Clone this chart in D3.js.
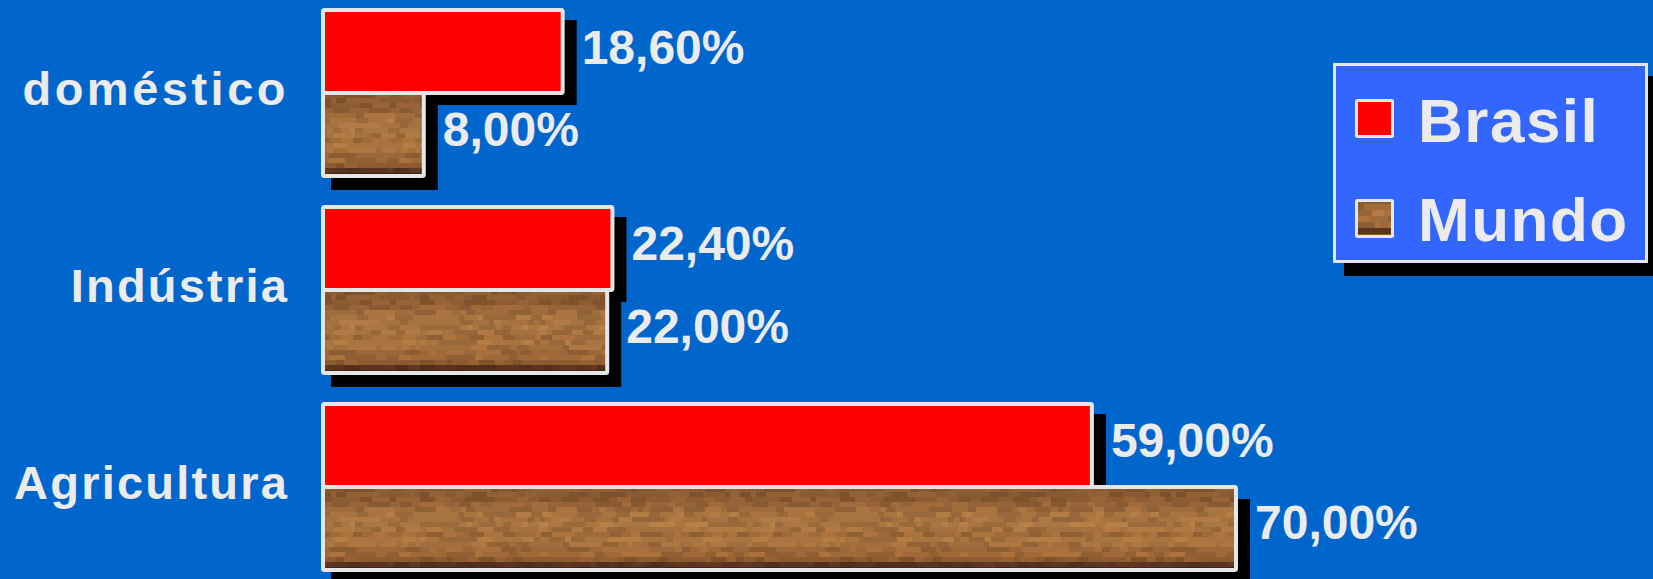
<!DOCTYPE html>
<html>
<head>
<meta charset="utf-8">
<script src="https://cdn.jsdelivr.net/npm/d3@7"></script>
<style>
  body { margin: 0; background: #0066cc; }
  svg { display: block; }
  text { font-family: "Liberation Sans", Arial, sans-serif; font-weight: bold; fill: #ebebeb; }
</style>
</head>
<body>
<div id="chart"></div>
<script>
var categories = ["doméstico", "Indústria", "Agricultura"];
var series = ["Brasil", "Mundo"];
var brasil = [18.6, 22.4, 59.0];
var mundo = [8.0, 22.0, 70.0];
var valueLabels = [["18,60%", "8,00%"], ["22,40%", "22,00%"], ["59,00%", "70,00%"]];

var width = 1653, height = 579;

var svg = d3.select("#chart").append("svg")
    .attr("width", width)
    .attr("height", height);

svg.append("rect")
    .attr("width", width)
    .attr("height", height)
    .attr("fill", "#0066cc");

var x = d3.scaleLinear()
    .domain([0, 70])
    .range([321, 1238]);

var y = d3.scaleBand()
    .domain(categories)
    .range([8, 572])
    .paddingInner(0.137)
    .paddingOuter(0);

var ySub = d3.scaleBand()
    .domain(series)
    .range([0, y.bandwidth()]);

var bw = ySub.bandwidth();

// pixel-ish wood texture (styling only)
var defs = svg.append("defs");

function hash(a, b) {
    var s = Math.sin(a * 127.1 + b * 311.7) * 43758.5453;
    return s - Math.floor(s);
}

var rowTones = ["#8a5a30", "#8e5c32", "#966438", "#a06c3c", "#a8743f", "#a67240",
                "#aa7742", "#a5713e", "#a06b3a", "#a8743f", "#a26e3c", "#9c683a",
                "#a06a38", "#8e5a30", "#5a3420", "#42261a", "#5e3a22"];

function makeWood(id, px, py, pw, ph, contentH, cell) {
    var p = defs.append("pattern")
        .attr("id", id)
        .attr("patternUnits", "userSpaceOnUse")
        .attr("x", px).attr("y", py)
        .attr("width", pw).attr("height", ph);
    var rows = Math.ceil(contentH / cell);
    for (var r = 0; r < rows; r++) {
        var tone = rowTones[Math.min(rowTones.length - 1, Math.floor(r / rows * rowTones.length))];
        var cx = 0, c = 0;
        while (cx < pw) {
            var w = cell + Math.floor(hash(r + px * 0.01, c) * cell * 2.5);
            var h = hash(c + 7, r + 3);
            var col = h < 0.3 ? d3.color(tone).darker(0.3)
                    : h > 0.72 ? d3.color(tone).brighter(0.2) : d3.color(tone);
            p.append("rect")
                .attr("x", cx).attr("y", r * cell)
                .attr("width", w + 0.5).attr("height", cell + 0.5)
                .attr("fill", col);
            cx += w;
            c++;
        }
    }
}

makeWood("wood", 0, y(categories[0]) + bw, 420, y.step(), bw, 5);
makeWood("woodLegend", 1356, 198, 36, 36, 36, 6);

var bars = [];
categories.forEach(function(c, i) {
    bars.push({ cat: c, s: "Brasil", v: brasil[i], label: valueLabels[i][0] });
    bars.push({ cat: c, s: "Mundo", v: mundo[i], label: valueLabels[i][1] });
});

// shadows
svg.append("g").selectAll("rect")
    .data(bars)
    .enter().append("rect")
    .attr("x", d => x(0) + 10)
    .attr("y", d => y(d.cat) + ySub(d.s) + 12)
    .attr("width", d => x(d.v) - x(0) + 2)
    .attr("height", bw)
    .attr("fill", "#000");

// bars
svg.append("g").selectAll("rect")
    .data(bars)
    .enter().append("rect")
    .attr("x", d => x(0) + 2)
    .attr("y", d => y(d.cat) + ySub(d.s) + (d.s === "Brasil" ? 2 : 0))
    .attr("width", d => x(d.v) - x(0) - 4)
    .attr("height", d => bw - 2)
    .attr("rx", 1.5)
    .attr("fill", d => d.s === "Brasil" ? "#ff0000" : "url(#wood)")
    .attr("stroke", "#e6e6e6")
    .attr("stroke-width", 4);

// value labels
svg.append("g").selectAll("text")
    .data(bars)
    .enter().append("text")
    .attr("x", d => x(d.v) + 17)
    .attr("y", d => y(d.cat) + ySub(d.s) + bw / 2 + (d.s === "Brasil" ? 13 : 10))
    .attr("font-size", 48)
    .text(d => d.label);

// category labels
svg.append("g").selectAll("text")
    .data(categories)
    .enter().append("text")
    .attr("x", 289)
    .attr("y", d => y(d) + y.bandwidth() / 2 + 12)
    .attr("text-anchor", "end")
    .attr("font-size", 47)
    .attr("letter-spacing", d => d === "doméstico" ? "3.5px" : "2.2px")
    .text(d => d);

// legend
var legend = svg.append("g");
legend.append("rect")
    .attr("x", 1344).attr("y", 76)
    .attr("width", 320).attr("height", 200)
    .attr("fill", "#000");
legend.append("rect")
    .attr("x", 1334.5).attr("y", 64.5)
    .attr("width", 312).attr("height", 197)
    .attr("fill", "#3366ff")
    .attr("stroke", "#e6e6e6")
    .attr("stroke-width", 3);

var legendY = d3.scaleBand()
    .domain(series)
    .range([70, 268]);

var li = legend.selectAll("g.item")
    .data(series)
    .enter().append("g")
    .attr("class", "item");

li.append("rect")
    .attr("x", 1356.5)
    .attr("y", d => legendY(d) + legendY.bandwidth() / 2 - 19 + (d === "Mundo" ? 1 : 0))
    .attr("width", 36).attr("height", 36)
    .attr("rx", 1)
    .attr("fill", d => d === "Brasil" ? "#ff0000" : "url(#woodLegend)")
    .attr("stroke", "#e6e6e6")
    .attr("stroke-width", 3);

li.append("text")
    .attr("x", 1418)
    .attr("y", d => legendY(d) + legendY.bandwidth() / 2 + 22)
    .attr("font-size", 62)
    .attr("letter-spacing", "1.5px")
    .text(d => d);
</script>
</body>
</html>
